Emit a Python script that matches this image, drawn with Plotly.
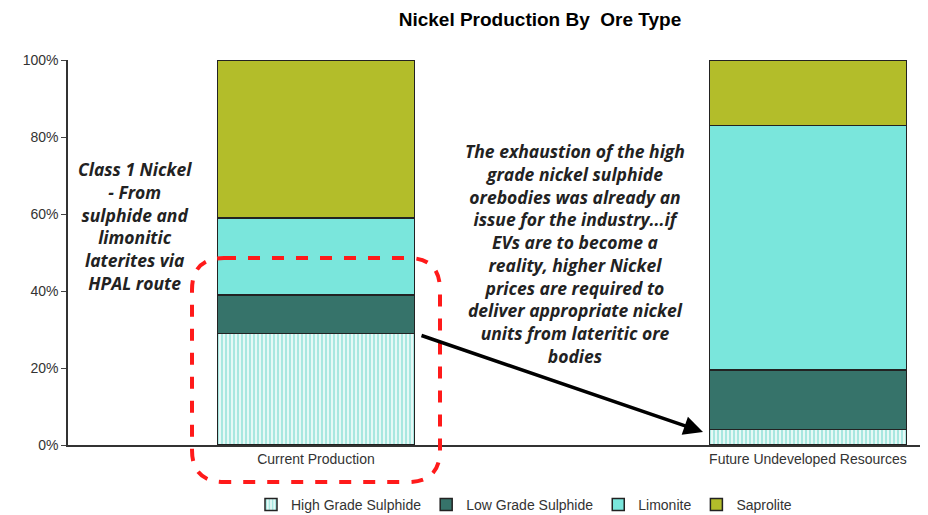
import plotly.graph_objects as go

categories = ["Current Production", "Future Undeveloped Resources"]
high_grade_sulphide = [29, 4]
low_grade_sulphide = [10, 15.5]
limonite = [20, 63.5]
saprolite = [41, 17]
y_ticks = [0, 20, 40, 60, 80, 100]
y_tick_labels = ["0%", "20%", "40%", "60%", "80%", "100%"]

# page body adds an 8px offset, so the figure is sized to the visible area
OFF = 8
W, H = 920, 507
L, R, T, B = 60, 3, 52, 70


def px(x):
    # screen x -> paper x
    return (x - OFF - L) / (W - L - R)


def py(y):
    # screen y -> paper y
    return (H - B - (y - OFF)) / (H - T - B)


fig = go.Figure()

fig.add_trace(go.Bar(
    x=categories, y=high_grade_sulphide, name="High Grade Sulphide",
    marker=dict(color="white", line=dict(color="#222222", width=1.5),
                pattern=dict(shape="|", fgcolor="#52cfc1", bgcolor="white", size=4, solidity=0.65))
))
fig.add_trace(go.Bar(
    x=categories, y=low_grade_sulphide, name="Low Grade Sulphide",
    marker=dict(color="#36736a", line=dict(color="#222222", width=1.5))
))
fig.add_trace(go.Bar(
    x=categories, y=limonite, name="Limonite",
    marker=dict(color="#7ae6dc", line=dict(color="#222222", width=1.5))
))
fig.add_trace(go.Bar(
    x=categories, y=saprolite, name="Saprolite",
    marker=dict(color="#b3bd2a", line=dict(color="#222222", width=1.5))
))

# red dashed rounded box around current production
x0, x1, y0, y1, r = 192, 440, 258, 482, 32
path = (
    f"M {px(x0 + r)} {py(y0)} L {px(x1 - r)} {py(y0)} "
    f"Q {px(x1)} {py(y0)} {px(x1)} {py(y0 + r)} "
    f"L {px(x1)} {py(y1 - r)} Q {px(x1)} {py(y1)} {px(x1 - r)} {py(y1)} "
    f"L {px(x0 + r)} {py(y1)} Q {px(x0)} {py(y1)} {px(x0)} {py(y1 - r)} "
    f"L {px(x0)} {py(y0 + r)} Q {px(x0)} {py(y0)} {px(x0 + r)} {py(y0)} Z"
)
fig.add_shape(type="path", path=path, xref="paper", yref="paper",
              line=dict(color="#ff1a1a", width=4, dash="dash"))

fig.add_annotation(
    x=px(703), y=py(432), xref="paper", yref="paper",
    ax=420 - 703, ay=335 - 432,
    showarrow=True, arrowhead=2, arrowsize=1.1, arrowwidth=3.5, arrowcolor="black", text=""
)

note_font = dict(family="Open Sans, Noto Sans, sans-serif", size=17.5, color="#222222")
fig.add_annotation(
    x=px(135), y=py(226), xref="paper", yref="paper", showarrow=False,
    xanchor="center", yanchor="middle",
    text="<b><i>Class 1 Nickel<br>- From<br>sulphide and<br>limonitic<br>laterites via<br>HPAL route</i></b>",
    font=note_font, align="center"
)
fig.add_annotation(
    x=px(575), y=py(253), xref="paper", yref="paper", showarrow=False,
    xanchor="center", yanchor="middle",
    text="<b><i>The exhaustion of the high<br>grade nickel sulphide<br>orebodies was already an<br>"
         "issue for the industry...if<br>EVs are to become a<br>reality, higher Nickel<br>"
         "prices are required to<br>deliver appropriate nickel<br>units from lateritic ore<br>bodies</i></b>",
    font=note_font, align="center"
)

fig.update_layout(
    width=W, height=H,
    margin=dict(l=L, r=R, t=T, b=B, autoexpand=False),
    barmode="stack",
    bargap=0.6,
    plot_bgcolor="white",
    paper_bgcolor="white",
    font=dict(family="Liberation Sans, Arial, sans-serif", size=14, color="#333333"),
    title=dict(text="<b>Nickel Production By  Ore Type</b>", x=(540 - OFF) / W, xanchor="center",
               y=1 - (19 - OFF) / H, yanchor="middle", font=dict(size=19, color="black")),
    showlegend=True,
    legend=dict(orientation="h", x=px(524), xanchor="center", y=py(505), yanchor="middle",
                traceorder="normal", font=dict(size=14, color="#333333"),
                itemwidth=30, tracegroupgap=0),
    xaxis=dict(range=[-0.504, 1.238], showline=True, linecolor="#333333", linewidth=1.5,
               ticks="", showgrid=False, tickfont=dict(size=14)),
    yaxis=dict(range=[0, 100], tickvals=y_ticks, ticktext=y_tick_labels, showline=True,
               linecolor="#333333", linewidth=1.5, ticks="outside", ticklen=5,
               showgrid=False, zeroline=False, tickfont=dict(size=14)),
)

fig.write_html("out.html")
